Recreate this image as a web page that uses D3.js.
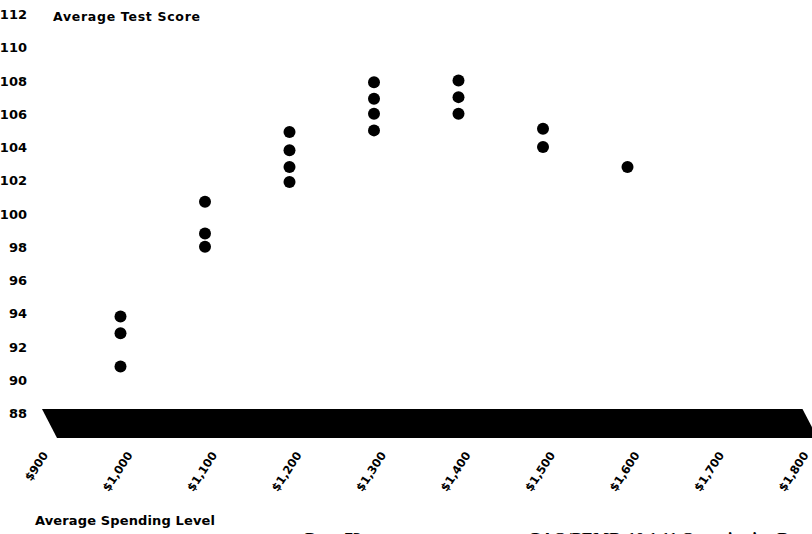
<!DOCTYPE html>
<html><head><meta charset="utf-8">
<script src="https://cdn.jsdelivr.net/npm/d3@7"></script>
<style>
html,body{margin:0;padding:0;background:#fff;overflow:hidden;}
svg{display:block;}
</style></head>
<body>
<svg id="chart" width="812" height="534"></svg>
<script>
const spending = [1000,1000,1000, 1100,1100,1100, 1200,1200,1200,1200, 1300,1300,1300,1300, 1400,1400,1400, 1500,1500, 1600];
const scores   = [93.8,92.8,90.8, 100.7,98.8,98.0, 104.9,103.8,102.8,101.9, 107.9,106.9,106.0,105.0, 108.0,107.0,106.0, 105.1,104.0, 102.8];
const xTicks = [900,1000,1100,1200,1300,1400,1500,1600,1700,1800];
const yTicks = [88,90,92,94,96,98,100,102,104,106,108,110,112];
const yTitle = "Average Test Score";
const xTitle = "Average Spending Level";
const footerLeft = "Page 73";
const footerRight = "GAO/PEMD-10.1.11 Quantitative Data Analysis";

const svg = d3.select("#chart");
const x = d3.scaleLinear().domain([900,1800]).range([36,796.5]);
const y = d3.scaleLinear().domain([88,112]).range([413,14]);
const fmt = d => "$" + d3.format(",")(d);

// Y axis labels
const yAxis = d3.axisLeft(y).tickValues(yTicks).tickSize(0).tickPadding(0).tickFormat(d3.format("d"));
const gy = svg.append("g").attr("transform","translate(27,0)").call(yAxis);
gy.select(".domain").remove();
gy.selectAll("text").attr("font-family","DejaVu Sans").attr("font-weight","bold")
  .attr("font-size",13).attr("fill","#000").attr("dy","0.36em");

// Y title
svg.append("text").attr("x",53).attr("y",20.5).text(yTitle)
  .attr("font-family","DejaVu Sans").attr("font-weight","bold").attr("font-size",12.5)
  .attr("textLength",147).attr("lengthAdjust","spacing");

// Floor band (x axis)
const bandTop = 409, bandBot = 438;
svg.append("path")
  .attr("d", `M${x(900)+6},${bandTop} L${x(1800)+6},${bandTop} L${x(1800)+21},${bandBot} L${x(900)+21},${bandBot} Z`)
  .attr("fill","#000");

// X tick labels (rotated)
const xAxis = d3.axisBottom(x).tickValues(xTicks).tickSize(0).tickFormat(fmt);
const gx = svg.append("g").call(xAxis);
gx.select(".domain").remove();
gx.selectAll(".tick").attr("transform", d => `translate(${x(d)+12.5},455)`);
gx.selectAll(".tick text")
  .attr("x",0).attr("y",0).attr("dy",0)
  .attr("text-anchor","end").attr("transform","rotate(-57)")
  .attr("font-family","DejaVu Sans").attr("font-weight","bold").attr("font-size",11.5).attr("fill","#000");

// X title
svg.append("text").attr("x",35).attr("y",525).text(xTitle)
  .attr("font-family","DejaVu Sans").attr("font-weight","bold").attr("font-size",13)
  .attr("textLength",180).attr("lengthAdjust","spacing");

// Points
svg.append("g").selectAll("circle").data(spending.map((s,i)=>({s, v:scores[i]})))
  .join("circle").attr("cx", d=>x(d.s)).attr("cy", d=>y(d.v)).attr("r",6).attr("fill","#000");

// Footer (cut off at bottom edge, as in the reference)
svg.append("text").attr("x",305).attr("y",544).text(footerLeft)
  .attr("font-family","Liberation Serif").attr("font-weight","bold").attr("font-size",17);
svg.append("text").attr("x",528).attr("y",544).text(footerRight)
  .attr("font-family","Liberation Serif").attr("font-weight","bold").attr("font-size",17);
</script>
</body></html>
